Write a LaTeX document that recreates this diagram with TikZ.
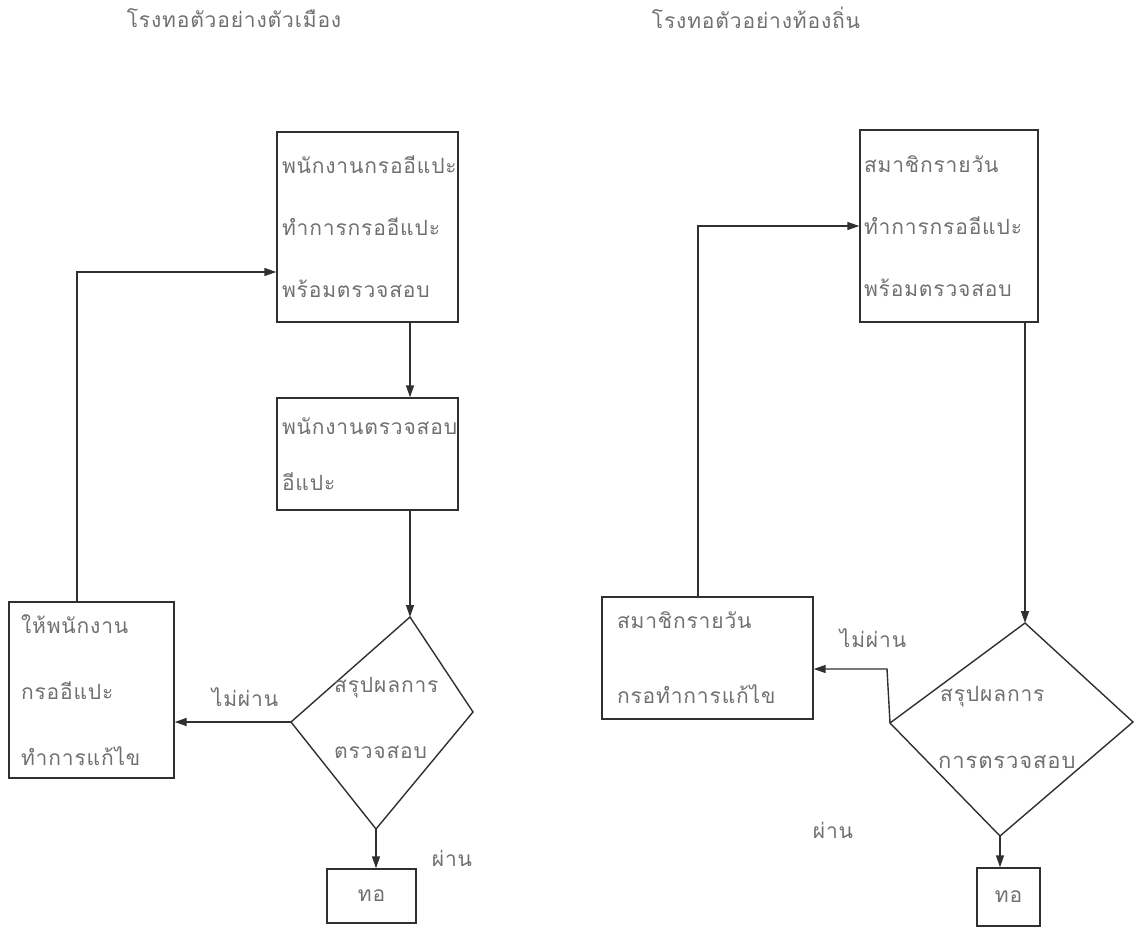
\documentclass[tikz,border=0pt]{standalone}
\usepackage{fontspec}
\newfontfamily\thaifont[Script=Thai,LetterSpace=4]{Loma}
\usetikzlibrary{arrows.meta}
\definecolor{ink}{HTML}{303030}
\definecolor{txt}{HTML}{707070}
\tikzset{
  line/.style={draw=ink, line width=1.4pt},
  arr/.style={line, -{Triangle[length=12pt,width=8pt]}},
  box/.style={line, rectangle, inner sep=5pt, align=left, text=txt, anchor=center},
  lbl/.style={text=txt, font=\thaifont\fontsize{21}{24}\selectfont, inner sep=0pt},
}
\begin{document}
\begin{tikzpicture}[x=1pt,y=-1pt]
\useasboundingbox (0,0) rectangle (1135,929);
% titles
\node[lbl] (t1) at (234,18) {โรงทอตัวอย่างตัวเมือง};
\node[lbl] (t2) at (756,18) {โรงทอตัวอย่างท้องถิ่น};

% ---------- left flow ----------
\node[box, minimum width=181pt, minimum height=190pt, text width=171pt,
      font=\thaifont\fontsize{21}{62}\selectfont] (A1) at (367.5,227)
  {พนักงานกรออีแปะ\\ทำการกรออีแปะ\\พร้อมตรวจสอบ};
\node[box, minimum width=181pt, minimum height=112pt, text width=171pt,
      font=\thaifont\fontsize{21}{56}\selectfont] (B1) at (367.5,454)
  {พนักงานตรวจสอบ\\อีแปะ};
\coordinate (L1t) at (410,617);
\coordinate (L1r) at (473,712);
\coordinate (L1b) at (376,829);
\coordinate (L1l) at (291,722);
\draw[line] (L1t) -- (L1r) -- (L1b) -- (L1l) -- cycle;
\node[lbl, anchor=west] (d1a) at (334,688) {สรุปผลการ};
\node[lbl, anchor=west] (d1b) at (334,752) {ตรวจสอบ};
\node[box, minimum width=165pt, minimum height=176pt, text width=141pt, inner sep=12pt,
      font=\thaifont\fontsize{21}{66}\selectfont] (C1) at (91.5,690)
  {ให้พนักงาน\\กรออีแปะ\\ทำการแก้ไข};
\node[box, minimum width=89pt, minimum height=54pt, align=center,
      font=\thaifont\fontsize{21}{24}\selectfont] (T1) at (371.5,896) {ทอ};
\node[lbl] (n1) at (245,697) {ไม่ผ่าน};
\node[lbl] (p1) at (452,858) {ผ่าน};
\coordinate (k1) at (77,272);
\draw[arr] (A1.south -| L1t) -- (B1.north -| L1t);
\draw[arr] (B1.south -| L1t) -- (L1t);
\draw[arr] (L1b) -- (T1.north -| L1b);
\draw[arr] (L1l) -- (C1.east |- L1l);
\draw[arr] (C1.north -| k1) -- (k1) -- (A1.west |- k1);

% ---------- right flow ----------
\node[box, minimum width=178pt, minimum height=192pt, text width=170pt, inner sep=4pt,
      font=\thaifont\fontsize{21}{62}\selectfont] (A2) at (949,226)
  {สมาชิกรายวัน\\ทำการกรออีแปะ\\พร้อมตรวจสอบ};
\coordinate (R1t) at (1025,623);
\coordinate (R1r) at (1133,722);
\coordinate (R1b) at (1000,836);
\coordinate (R1l) at (890,723);
\draw[line] (R1t) -- (R1r) -- (R1b) -- (R1l) -- cycle;
\node[lbl, anchor=west] (d2a) at (940,697) {สรุปผลการ};
\node[lbl, anchor=west, font=\thaifont\fontsize{22}{24}\selectfont] (d2b) at (938,762) {การตรวจสอบ};
\node[box, minimum width=211pt, minimum height=120pt, text width=181pt, inner sep=15pt,
      font=\thaifont\fontsize{21}{75}\selectfont] (C2) at (707.5,658)
  {สมาชิกรายวัน\\กรอทำการแก้ไข};
\node[box, minimum width=63pt, minimum height=58pt, align=center,
      font=\thaifont\fontsize{21}{24}\selectfont] (T2) at (1008.5,897) {ทอ};
\node[lbl] (n2) at (873,638) {ไม่ผ่าน};
\node[lbl] (p2) at (833,830) {ผ่าน};
\coordinate (k2) at (698,226);
\coordinate (k3) at (887,669);
\draw[arr] (A2.south -| R1t) -- (R1t);
\draw[arr] (R1b) -- (T2.north -| R1b);
\draw[arr] (R1l) -- (k3) -- (C2.east |- k3);
\draw[arr] (C2.north -| k2) -- (k2) -- (A2.west |- k2);
\end{tikzpicture}
\end{document}
